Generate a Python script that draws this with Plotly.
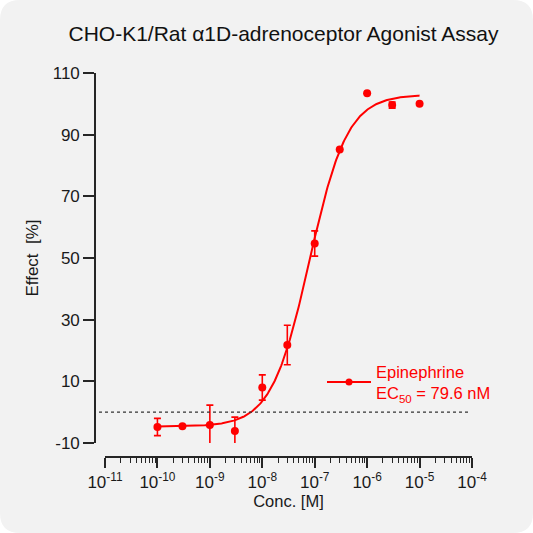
import numpy as np
import plotly.graph_objects as go

# ---- data ----
conc = [1e-10, 3e-10, 1e-9, 3e-9, 1e-8, 3e-8, 1e-7, 3e-7, 1e-6, 3e-6, 1e-5]
effect = [-4.8, -4.6, -4.2, -6.1, 8.0, 21.8, 54.7, 85.2, 103.4, 99.6, 100.0]
err = [2.8, 0.0, 6.5, 4.5, 4.1, 6.4, 4.1, 0.0, 0.0, 1.0, 0.0]

# 4-parameter logistic fit parameters (EC50 from the legend)
fit_bottom = -4.7
fit_top = 103.0
fit_ec50 = 79.6e-9
fit_hill = 1.2
fit_range = [1e-10, 1e-5]

x_major = [-11, -10, -9, -8, -7, -6, -5, -4]
x_major_text = ["10<sup>%d</sup>" % e for e in x_major]
y_ticks = [-10, 10, 30, 50, 70, 90, 110]
y_tick_text = [str(v) for v in y_ticks]

RED = "#ff0000"
AX = "#262626"
FONT = "Liberation Sans, Arial, sans-serif"

W = H = 533
ML, MR, MT, MB = 95, 61, 73, 76
PW, PH = W - ML - MR, H - MT - MB


def px(xp):
    return (xp - ML) / PW


def py(ypx):
    return 1 - (ypx - MT) / PH


xc = np.logspace(np.log10(fit_range[0]), np.log10(fit_range[1]), 300)
yc = fit_bottom + (fit_top - fit_bottom) / (1 + (fit_ec50 / xc) ** fit_hill)

fig = go.Figure()
fig.add_trace(go.Scatter(
    x=xc, y=yc, mode="lines", line=dict(color=RED, width=2),
    showlegend=False, hoverinfo="skip"))
fig.add_trace(go.Scatter(
    x=conc, y=effect, mode="markers",
    marker=dict(color=RED, size=8),
    error_y=dict(type="data", array=err, color=RED, thickness=1.6, width=3.5),
    showlegend=False))
# legend entry
fig.add_trace(go.Scatter(
    x=[None], y=[None], mode="lines+markers",
    line=dict(color=RED, width=2), marker=dict(color=RED, size=7),
    name="Epinephrine<br>EC<sub>50</sub> = 79.6 nM"))

minor_vals = [d * 10.0 ** e for e in x_major[:-1] for d in range(2, 10)]

fig.update_layout(
    width=W, height=H,
    margin=dict(l=ML, r=MR, t=MT, b=MB),
    paper_bgcolor="white",
    plot_bgcolor="rgba(0,0,0,0)",
    font=dict(family=FONT, color="#1a1a1a", size=16),
    title=dict(text="CHO-K1/Rat α1D-adrenoceptor Agonist Assay",
               x=0.5, xref="paper", xanchor="center",
               y=1 - 34 / H, yref="container", yanchor="middle",
               font=dict(size=21, color="#111111")),
    showlegend=True,
    legend=dict(x=px(322), y=py(354), xanchor="left", yanchor="top",
                bgcolor="rgba(0,0,0,0)", font=dict(size=16.5, color=RED),
                valign="middle", itemwidth=44),
    xaxis=dict(
        type="log", range=[-11, -4], domain=[px(105), 1],
        anchor="free", position=0,
        showgrid=False, zeroline=False,
        showline=True, linecolor=AX, linewidth=1.6,
        ticks="outside", ticklen=10, tickwidth=1.6, tickcolor=AX,
        tickvals=[10.0 ** e for e in x_major], ticktext=x_major_text,
        tickfont=dict(size=17),
        minor=dict(tickvals=minor_vals, ticks="outside", ticklen=5,
                   tickwidth=1.4, tickcolor=AX, showgrid=False),
        title=dict(text="Conc. [M]", font=dict(size=16.5), standoff=2),
    ),
    yaxis=dict(
        range=[-10, 110], domain=[py(443), 1],
        anchor="free", position=0,
        showgrid=False, zeroline=False,
        showline=True, linecolor=AX, linewidth=1.6,
        ticks="outside", ticklen=11, tickwidth=1.6, tickcolor=AX,
        tickvals=y_ticks, ticktext=y_tick_text, tickfont=dict(size=17),
        title=dict(text="Effect\u00a0\u00a0[%]", font=dict(size=17), standoff=9),
    ),
)

# rounded light-grey card behind everything
r = 20
x0, x1, y0, y1 = px(0), px(W), py(H), py(0)
rx, ry = r / PW, r / PH
path = (f"M{x0+rx},{y1} L{x1-rx},{y1} Q{x1},{y1} {x1},{y1-ry} "
        f"L{x1},{y0+ry} Q{x1},{y0} {x1-rx},{y0} "
        f"L{x0+rx},{y0} Q{x0},{y0} {x0},{y0+ry} "
        f"L{x0},{y1-ry} Q{x0},{y1} {x0+rx},{y1} Z")
fig.add_shape(type="path", path=path, xref="paper", yref="paper",
              fillcolor="#f2f2f2", line=dict(width=0), layer="below")

# dotted zero baseline
fig.add_shape(type="line", xref="paper", yref="y",
              x0=px(99), x1=px(470), y0=0, y1=0,
              line=dict(color="#333333", width=1.3, dash="dot"))

fig.write_html("out.html",
               config={"displayModeBar": False},
               post_script="document.body.style.margin='0';"
                           "document.body.style.padding='0';")
